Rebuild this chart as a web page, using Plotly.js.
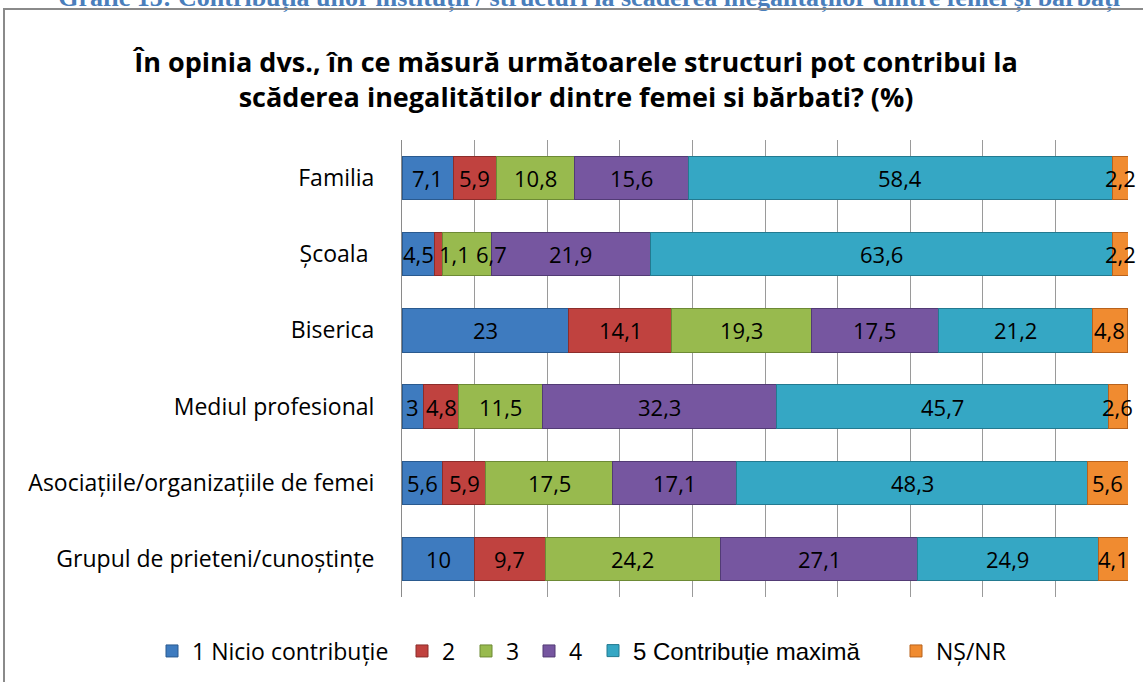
<!DOCTYPE html>
<html>
<head>
<meta charset="utf-8">
<script src="https://cdn.plot.ly/plotly-3.0.1.min.js"></script>
<style>
  body { margin: 0; background: #fff; overflow: hidden; }
  #chart { position: absolute; left: 0; top: 0; width: 1143px; height: 682px; }
  #frame { position: absolute; left: 3px; top: 8px; width: 1200px; height: 700px;
           border: 2px solid #8a8a8a; pointer-events: none; }
  #caption { position: absolute; right: 23px; top: -17px; white-space: nowrap; line-height: 26px;
             font: bold 26px "Liberation Serif", serif; color: #4a7ebb; }
</style>
</head>
<body>
<div id="caption">Grafic 15: Contribuția unor instituții / structuri la scăderea inegalităților dintre femei și bărbați</div>
<div id="chart"></div>
<div id="frame"></div>
<script>
let categories = ['Familia', 'Școala\u00a0', 'Biserica', 'Mediul profesional',
    'Asociațiile/organizațiile de femei', 'Grupul de prieteni/cunoștințe'];

let seriesNames = ['1 Nicio contribuție', '2', '3', '4', '5 Contribuție maximă', 'NȘ/NR'];

let nicio = [7.1, 4.5, 23, 3, 5.6, 10];
let doi = [5.9, 1.1, 14.1, 4.8, 5.9, 9.7];
let trei = [10.8, 6.7, 19.3, 11.5, 17.5, 24.2];
let patru = [15.6, 21.9, 17.5, 32.3, 17.1, 27.1];
let maxima = [58.4, 63.6, 21.2, 45.7, 48.3, 24.9];
let nsnr = [2.2, 2.2, 4.8, 2.6, 5.6, 4.1];

let fillColors = ['#3e7bbf', '#c0423f', '#98ba4e', '#7656a0', '#35a7c4', '#f08b30'];
let lineColors = ['#2a5a8f', '#8c2d2b', '#6d8a35', '#523b75', '#237a90', '#b8621c'];

let allSeries = [nicio, doi, trei, patru, maxima, nsnr];

const W = 1143, H = 682, L = 402, R = 15, T = 140, B = 85;

// one small legend per series, so the spacing can follow the original
let legendLeft = [152, 402, 466, 529, 593, 896];
let legendFonts = ['Open Sans', 'Open Sans', 'Open Sans', 'Open Sans', 'Liberation Sans', 'Open Sans'];
let legendSizes = [23, 23, 23, 23, 24, 23];
let legendKeys = ['legend2', 'legend3', 'legend4', 'legend5', 'legend6', 'legend7'];

let traces = [];
for (let s = 0; s < allSeries.length; s++) {
    traces.push({
        type: 'bar',
        orientation: 'h',
        name: seriesNames[s],
        x: allSeries[s],
        y: categories,
        legend: legendKeys[s],
        showlegend: true,
        marker: { color: fillColors[s], line: { color: lineColors[s], width: 1 } },
        hoverinfo: 'x+name'
    });
}

// data labels, pushed right when they would overlap (like Excel does)
const pxPerUnit = (W - L - R) / 100;
const labelSize = 22;
function labelWidth(t) {
    let w = 0;
    for (const ch of t) w += (ch === ',') ? 0.26 : 0.57;
    return w * labelSize / pxPerUnit;
}
let annotations = [];
for (let c = 0; c < categories.length; c++) {
    let start = 0;
    let prevRight = -1e9;
    for (let s = 0; s < allSeries.length; s++) {
        let v = allSeries[s][c];
        let txt = String(v).replace('.', ',');
        let w = labelWidth(txt);
        let center = start + v / 2;
        if (center - w / 2 < prevRight) center = prevRight + w / 2 + 0.8;
        prevRight = center + w / 2;
        annotations.push({
            x: center, y: categories[c], xref: 'x', yref: 'y',
            text: txt, showarrow: false,
            font: { family: 'Open Sans', size: labelSize, color: '#000' }
        });
        start += v;
    }
}

let layout = {
    width: W,
    height: H,
    barmode: 'stack',
    bargap: 0.43,
    showlegend: true,
    margin: { l: L, r: R, t: T, b: B },
    paper_bgcolor: 'rgba(0,0,0,0)',
    plot_bgcolor: 'rgba(0,0,0,0)',
    font: { family: 'Open Sans', size: 21, color: '#000' },
    title: {
        text: 'În opinia dvs., în ce măsură următoarele structuri pot contribui la<br>scăderea inegalitătilor dintre femei si bărbati? (%)',
        font: { family: 'Open Sans', size: 27, color: '#000', weight: 'bold' },
        xref: 'container', x: 0.504, xanchor: 'center',
        yref: 'container', y: 0.895, yanchor: 'middle'
    },
    xaxis: {
        range: [0, 100],
        dtick: 10,
        showgrid: true,
        gridcolor: '#9a9a9a',
        gridwidth: 1,
        showticklabels: false,
        zeroline: false,
        showline: false,
        fixedrange: true
    },
    yaxis: {
        autorange: 'reversed',
        showline: true,
        linecolor: '#8a8a8a',
        linewidth: 1,
        ticks: '',
        ticklabelstandoff: 22,
        tickfont: { family: 'Open Sans', size: 23, color: '#000' },
        fixedrange: true
    },
    annotations: annotations
};

for (let s = 0; s < seriesNames.length; s++) {
    layout[legendKeys[s]] = {
        visible: true,
        orientation: 'h',
        xref: 'container', x: legendLeft[s] / W, xanchor: 'left',
        yref: 'container', y: 1 - 651 / H, yanchor: 'middle',
        font: { family: legendFonts[s], size: legendSizes[s], color: '#000' },
        bgcolor: 'rgba(0,0,0,0)',
        itemwidth: 30
    };
}

const config = { displayModeBar: false };

Plotly.newPlot('chart', traces, layout, config);
</script>
</body>
</html>
